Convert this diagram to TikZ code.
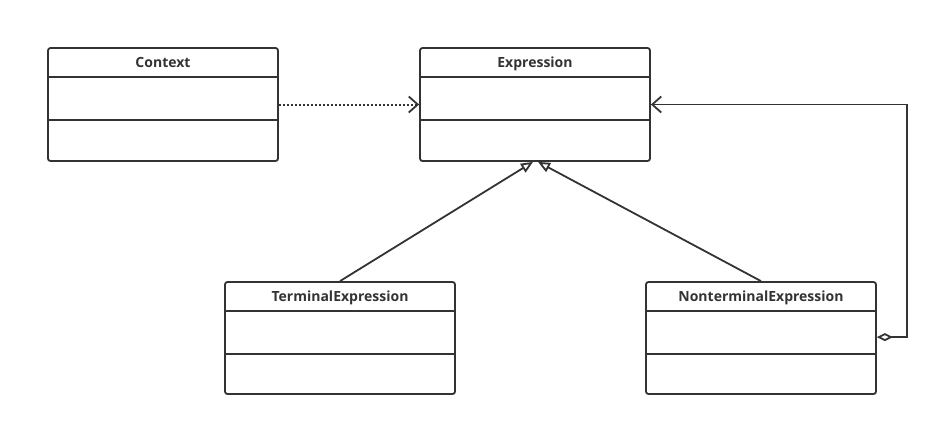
\documentclass[tikz,border=0pt]{standalone}
\usepackage{fontspec}
\setmainfont{Open Sans}
\usetikzlibrary{arrows.meta}
\definecolor{umlgray}{HTML}{333333}
\begin{document}
\begin{tikzpicture}[x=1pt,y=-1pt,line width=1.8pt,draw=umlgray]
        \tikzstyle{umlclass}=[draw=umlgray,rounded corners=2.5pt,minimum width=230pt,minimum height=113pt,inner sep=0pt]
        \tikzstyle{title}=[font=\bfseries\fontsize{14}{16}\selectfont,text=umlgray,anchor=base,inner sep=0pt]
        \tikzstyle{edge}=[draw=umlgray,line width=1.8pt]
        \useasboundingbox (0,0) rectangle (938,426);

        % classes
        \node [umlclass] (ctx) at (163,104.5) {};
        \node [umlclass] (expr) at (535,104.5) {};
        \node [umlclass,minimum height=112pt] (term) at (340,338) {};
        \node [umlclass,minimum height=112pt] (nonterm) at (761,338) {};

        \node [title] (ctxt) at ([yshift=-20pt]ctx.north) {Context};
        \node [title] (exprt) at ([yshift=-20pt]expr.north) {Expression};
        \node [title] (termt) at ([yshift=-20pt]term.north) {TerminalExpression};
        \node [title] (nontermt) at ([yshift=-20pt]nonterm.north) {NonterminalExpression};

        % compartments
        \foreach \c in {ctx,expr,term,nonterm} {
          \draw[edge] ([yshift=-30pt]\c.north west) -- ([yshift=-30pt]\c.north east);
          \draw[edge] ([yshift=-72.5pt]\c.north west) -- ([yshift=-72.5pt]\c.north east);
        }

        % relations
        \path[edge,line width=2pt,dash pattern=on 2pt off 2pt,-{Straight Barb[length=9pt,width=16pt,line width=1.8pt]}]
          (ctx.east) -- (expr.west);
        \path[edge,-{Triangle[open,length=12pt,width=10pt]}] (term.north) -- ([xshift=-2pt]expr.south);
        \path[edge,-{Triangle[open,length=12pt,width=10pt]}] (nonterm.north) -- ([xshift=3pt]expr.south);
        \coordinate (agg) at ([yshift=-56pt]nonterm.north east);
        \path[edge,{Diamond[open,length=16pt,width=8pt]}-{Straight Barb[length=9pt,width=16pt]}]
          (agg) -- ++(30,0) |- (expr.east);
\end{tikzpicture}
\end{document}
